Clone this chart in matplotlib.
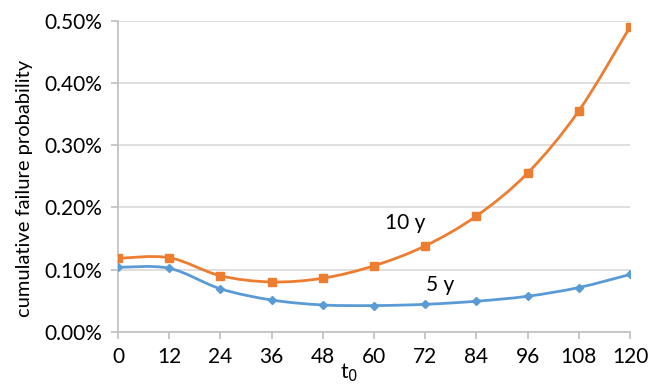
import matplotlib
matplotlib.use("Agg")
import matplotlib.pyplot as plt
import numpy as np
from matplotlib.path import Path
from matplotlib.patches import PathPatch
from matplotlib.ticker import FuncFormatter

t0 = [0, 12, 24, 36, 48, 60, 72, 84, 96, 108, 120]
p10y = [0.118, 0.119, 0.090, 0.080, 0.086, 0.106, 0.138, 0.186, 0.255, 0.355, 0.490]
p5y = [0.1035, 0.102, 0.069, 0.051, 0.043, 0.042, 0.044, 0.049, 0.057, 0.071, 0.092]
series_labels = ["10 y", "5 y"]
y_ticks = [0.0, 0.1, 0.2, 0.3, 0.4, 0.5]
x_ticks = t0

plt.rcParams['font.family'] = ['Lato', 'DejaVu Sans']

fig = plt.figure(figsize=(6.48, 3.85), dpi=100)
ax = fig.add_axes([118/648, 1-331.7/385, (630-118)/648, (331.7-20.7)/385])


def smooth_path(x, y):
    x = np.asarray(x, float); y = np.asarray(y, float)
    n = len(x)
    verts = [(x[0], y[0])]
    codes = [Path.MOVETO]
    for i in range(n - 1):
        xm = x[i-1] if i > 0 else x[i]
        ym = y[i-1] if i > 0 else y[i]
        xp = x[i+2] if i + 2 < n else x[i+1]
        yp = y[i+2] if i + 2 < n else y[i+1]
        c1 = (x[i] + (x[i+1] - xm) / 6, y[i] + (y[i+1] - ym) / 6)
        c2 = (x[i+1] - (xp - x[i]) / 6, y[i+1] - (yp - y[i]) / 6)
        verts += [c1, c2, (x[i+1], y[i+1])]
        codes += [Path.CURVE4] * 3
    return Path(verts, codes)

c10 = '#ED7D31'
c5 = '#5B9BD5'
for yy, col, mk, ms in [(p5y, c5, 'D', 4.5), (p10y, c10, 's', 5.5)]:
    ax.add_patch(PathPatch(smooth_path(t0, yy), facecolor='none', edgecolor=col,
                           lw=2.0, zorder=3, capstyle='round'))
    ax.plot(t0, yy, linestyle='none', marker=mk, ms=ms, color=col, zorder=4)

ax.set_xlim(0, 120)
ax.set_ylim(0, 0.5)
ax.set_xticks(x_ticks)
ax.set_yticks(y_ticks)
ax.yaxis.set_major_formatter(FuncFormatter(lambda v, p: f"{v:.2f}%"))
ax.grid(axis='y', color='#D9D9D9', lw=1.2)
ax.set_axisbelow(True)
for s in ['top', 'right']:
    ax.spines[s].set_visible(False)
for s in ['left', 'bottom']:
    ax.spines[s].set_color('#BFBFBF')
    ax.spines[s].set_linewidth(1.2)
ax.tick_params(axis='both', direction='out', length=5, color='#BFBFBF', width=1.2,
               labelsize=15, labelcolor='#000000', pad=6)

fig.text(25/648, 1-188/385, "cumulative failure probability", fontsize=14.5,
         rotation=90, ha='center', va='center')
fig.text(340/648, 1-373/385, "t$_0$", fontsize=15, ha='left', va='center')

ax.text(385, 385 - 223, series_labels[0], transform=None, fontsize=15, ha='left', va='center')
ax.text(426, 385 - 285, series_labels[1], transform=None, fontsize=15, ha='left', va='center')

fig.savefig("out.png", dpi=100)
